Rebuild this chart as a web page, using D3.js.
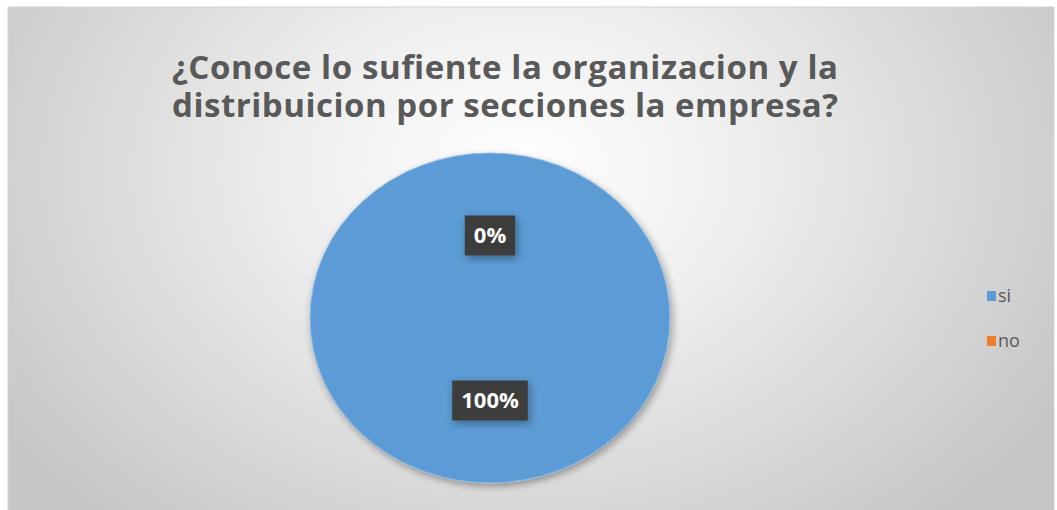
<!DOCTYPE html>
<html><head><meta charset="utf-8">
<script src="https://cdn.jsdelivr.net/npm/d3@7"></script>
<style>html,body{margin:0;padding:0;background:#fff;}svg{display:block;}</style>
</head><body>
<script>
const titleLines = ["¿Conoce lo sufiente la organizacion y la", "distribuicion por secciones la empresa?"];
const categories = ["si", "no"];
const values = [100, 0];
const colors = ["#5b9bd5", "#ed7d31"];

const W = 1057, H = 510;
const svg = d3.select("body").append("svg").attr("width", W).attr("height", H);
const defs = svg.append("defs");

const rg = defs.append("radialGradient").attr("id", "bg")
  .attr("gradientUnits", "userSpaceOnUse")
  .attr("cx", 520).attr("cy", 170).attr("r", 620)
  .attr("gradientTransform", "translate(520,170) scale(1,0.75) translate(-520,-170)");
rg.append("stop").attr("offset", "0").attr("stop-color", "#ffffff");
rg.append("stop").attr("offset", "0.35").attr("stop-color", "#efefef");
rg.append("stop").attr("offset", "1").attr("stop-color", "#c6c6c6");

const sh = defs.append("filter").attr("id", "shadow").attr("x", "-20%").attr("y", "-20%").attr("width", "140%").attr("height", "140%");
sh.append("feGaussianBlur").attr("in", "SourceAlpha").attr("stdDeviation", 4).attr("result", "b");
sh.append("feOffset").attr("in", "b").attr("dx", 2).attr("dy", 3).attr("result", "o");
sh.append("feComponentTransfer").attr("in", "o").attr("result", "oa")
  .append("feFuncA").attr("type", "linear").attr("slope", 0.35);
const m = sh.append("feMerge");
m.append("feMergeNode").attr("in", "oa");
m.append("feMergeNode").attr("in", "SourceGraphic");

const pat = defs.append("pattern").attr("id", "dots").attr("patternUnits", "userSpaceOnUse").attr("width", 4).attr("height", 4);
pat.append("rect").attr("width", 4).attr("height", 4).attr("fill", "#3b3b3b");
pat.append("rect").attr("x", 1).attr("y", 1).attr("width", 1).attr("height", 1).attr("fill", "#4a4a48");
pat.append("rect").attr("x", 3).attr("y", 3).attr("width", 1).attr("height", 1).attr("fill", "#444440");

// chart area
svg.append("rect").attr("x", 8).attr("y", 7).attr("width", 1046).attr("height", 510)
  .attr("fill", "url(#bg)").attr("stroke", "#d4d4d4").attr("stroke-width", 1);

// title
const titleG = svg.append("g").attr("font-family", "'Open Sans', 'Noto Sans', sans-serif")
  .attr("font-weight", "bold").attr("fill", "#595959").attr("text-anchor", "middle");
const baselines = [79, 117];
titleLines.forEach((t, i) => {
  titleG.append("text").attr("x", 505).attr("y", baselines[i]).attr("font-size", 33)
    .attr("textLength", 666).attr("lengthAdjust", "spacing").text(t);
});

// pie
const cx = 490, cy = 318, rx = 180, ry = 165;
const pie = d3.pie().sort(null).value(d => d.v);
const data = pie(categories.map((c, i) => ({c, v: values[i], col: colors[i]})));
const arc = d3.arc().innerRadius(0).outerRadius(rx);
const total = d3.sum(values);

const pieG = svg.append("g").attr("transform", `translate(${cx},${cy}) scale(1,${ry / rx})`);
pieG.selectAll("path").data(data).join("path")
  .attr("d", arc).attr("fill", d => d.data.col)
  .attr("stroke", "#8fbce6").attr("stroke-width", 1)
  .attr("filter", "url(#shadow)");

// labels
const labelArc = d3.arc().innerRadius(0).outerRadius(rx);
const labG = svg.append("g");
data.forEach(d => {
  const [x, y] = labelArc.centroid(d);
  const px = cx + x, py = cy + y * ry / rx;
  const txt = Math.round(d.data.v / total * 100) + "%";
  const g = labG.append("g").attr("transform", `translate(${px},${py})`);
  const rect = g.append("rect").attr("fill", "url(#dots)").attr("filter", "url(#shadow)");
  const t = g.append("text").attr("text-anchor", "middle").attr("dy", "0.36em")
    .attr("font-family", "'Open Sans', 'Noto Sans', sans-serif").attr("font-weight", "bold")
    .attr("font-size", 22).attr("fill", "#ffffff").text(txt);
  const w = t.node().getComputedTextLength() + 18;
  rect.attr("x", -w / 2).attr("y", -20).attr("width", w).attr("height", 40);
});

// legend
const legY = [291, 336];
const leg = svg.append("g");
categories.forEach((c, i) => {
  leg.append("rect").attr("x", 987).attr("y", legY[i]).attr("width", 9).attr("height", 10).attr("fill", colors[i]);
  leg.append("text").attr("x", 998).attr("y", legY[i] + 11).attr("font-family", "'Open Sans', 'Noto Sans', sans-serif")
    .attr("font-size", 18).attr("fill", "#595959").text(c);
});
</script>
</body></html>
